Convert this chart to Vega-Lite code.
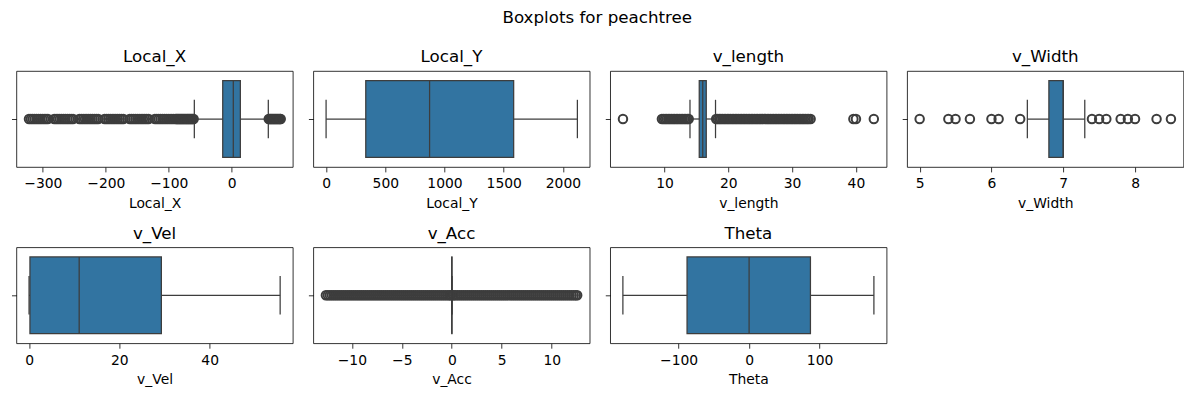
{
"$schema": "https://vega.github.io/schema/vega-lite/v6.json",
"padding": {"left": 10.4, "top": 10, "right": 0, "bottom": 0},
"title": {"text": "Boxplots for peachtree", "anchor": "middle", "fontSize": 16.7, "fontWeight": "normal", "font": "DejaVu Sans", "color": "black", "offset": 22},
"columns": 4,
"spacing": {"row": 80.3, "column": 19.9},
"bounds": "flush",
"datasets": {
"stats": [
{"var":"Local_X","lo":-59.4,"q1":-14.3,"med":2.5,"q3":13.7,"hi":58.1},
{"var":"Local_Y","lo":0,"q1":335,"med":874,"q3":1584,"hi":2122},
{"var":"v_length","lo":14.0,"q1":15.45,"med":16.0,"q3":16.55,"hi":18.0},
{"var":"v_Width","lo":6.5,"q1":6.8,"med":7.0,"q3":7.0,"hi":7.3},
{"var":"v_Vel","lo":0,"q1":0.2,"med":11.1,"q3":29.3,"hi":55.6},
{"var":"v_Acc","lo":0,"q1":0,"med":0,"q3":0.02,"hi":0.02},
{"var":"Theta","lo":-179,"q1":-88,"med":0,"q3":87,"hi":177}
],
"out": [
{"var":"Local_X","v":-322},{"var":"Local_X","v":-319},{"var":"Local_X","v":-316},{"var":"Local_X","v":-313},{"var":"Local_X","v":-310},{"var":"Local_X","v":-307},{"var":"Local_X","v":-304},{"var":"Local_X","v":-301},{"var":"Local_X","v":-298},{"var":"Local_X","v":-295},{"var":"Local_X","v":-292},
{"var":"Local_X","v":-282},{"var":"Local_X","v":-279},{"var":"Local_X","v":-276},{"var":"Local_X","v":-273},{"var":"Local_X","v":-270},{"var":"Local_X","v":-267},{"var":"Local_X","v":-264},{"var":"Local_X","v":-261},{"var":"Local_X","v":-258},{"var":"Local_X","v":-255},{"var":"Local_X","v":-252},
{"var":"Local_X","v":-242},{"var":"Local_X","v":-239},{"var":"Local_X","v":-236},{"var":"Local_X","v":-233},{"var":"Local_X","v":-230},{"var":"Local_X","v":-227},{"var":"Local_X","v":-224},{"var":"Local_X","v":-221},{"var":"Local_X","v":-218},{"var":"Local_X","v":-215},{"var":"Local_X","v":-212},
{"var":"Local_X","v":-202},{"var":"Local_X","v":-199},{"var":"Local_X","v":-196},{"var":"Local_X","v":-193},{"var":"Local_X","v":-190},{"var":"Local_X","v":-187},{"var":"Local_X","v":-184},{"var":"Local_X","v":-181},{"var":"Local_X","v":-178},{"var":"Local_X","v":-175},{"var":"Local_X","v":-172},
{"var":"Local_X","v":-162},{"var":"Local_X","v":-159},{"var":"Local_X","v":-156},{"var":"Local_X","v":-153},{"var":"Local_X","v":-150},{"var":"Local_X","v":-147},{"var":"Local_X","v":-144},{"var":"Local_X","v":-141},{"var":"Local_X","v":-138},{"var":"Local_X","v":-135},{"var":"Local_X","v":-132},
{"var":"Local_X","v":-122},{"var":"Local_X","v":-119},{"var":"Local_X","v":-116},{"var":"Local_X","v":-113},{"var":"Local_X","v":-110},{"var":"Local_X","v":-107},{"var":"Local_X","v":-104},{"var":"Local_X","v":-101},{"var":"Local_X","v":-98},{"var":"Local_X","v":-95},{"var":"Local_X","v":-92},
{"var":"Local_X","v":-89},{"var":"Local_X","v":-87.5},{"var":"Local_X","v":-86},{"var":"Local_X","v":-84.5},{"var":"Local_X","v":-83},{"var":"Local_X","v":-81.5},{"var":"Local_X","v":-80},{"var":"Local_X","v":-78.5},{"var":"Local_X","v":-77},{"var":"Local_X","v":-75.5},{"var":"Local_X","v":-74},{"var":"Local_X","v":-72.5},{"var":"Local_X","v":-71},{"var":"Local_X","v":-69.5},{"var":"Local_X","v":-68},{"var":"Local_X","v":-66.5},{"var":"Local_X","v":-65},{"var":"Local_X","v":-63.5},{"var":"Local_X","v":-62},{"var":"Local_X","v":-60.5},
{"var":"Local_X","v":58.8},{"var":"Local_X","v":60.3},{"var":"Local_X","v":61.8},{"var":"Local_X","v":63.3},{"var":"Local_X","v":64.8},{"var":"Local_X","v":66.3},{"var":"Local_X","v":67.8},{"var":"Local_X","v":69.3},{"var":"Local_X","v":70.8},{"var":"Local_X","v":72.3},{"var":"Local_X","v":73.8},{"var":"Local_X","v":75.3},{"var":"Local_X","v":76.8},{"var":"Local_X","v":77.8},
{"var":"v_length","v":3.5},
{"var":"v_length","v":9.6},{"var":"v_length","v":9.85},{"var":"v_length","v":10.1},{"var":"v_length","v":10.35},{"var":"v_length","v":10.6},{"var":"v_length","v":10.85},{"var":"v_length","v":11.1},{"var":"v_length","v":11.35},{"var":"v_length","v":11.6},{"var":"v_length","v":11.85},{"var":"v_length","v":12.1},{"var":"v_length","v":12.35},{"var":"v_length","v":12.6},{"var":"v_length","v":12.85},{"var":"v_length","v":13.1},{"var":"v_length","v":13.35},{"var":"v_length","v":13.6},{"var":"v_length","v":13.8},
{"var":"v_length","v":18.1},{"var":"v_length","v":18.35},{"var":"v_length","v":18.6},{"var":"v_length","v":18.85},{"var":"v_length","v":19.1},{"var":"v_length","v":19.35},{"var":"v_length","v":19.6},{"var":"v_length","v":19.85},{"var":"v_length","v":20.1},{"var":"v_length","v":20.35},{"var":"v_length","v":20.6},{"var":"v_length","v":20.85},{"var":"v_length","v":21.1},{"var":"v_length","v":21.35},{"var":"v_length","v":21.6},{"var":"v_length","v":21.85},{"var":"v_length","v":22.1},{"var":"v_length","v":22.35},{"var":"v_length","v":22.6},{"var":"v_length","v":22.85},{"var":"v_length","v":23.1},{"var":"v_length","v":23.35},{"var":"v_length","v":23.6},{"var":"v_length","v":23.85},{"var":"v_length","v":24.1},{"var":"v_length","v":24.35},{"var":"v_length","v":24.6},{"var":"v_length","v":24.85},{"var":"v_length","v":25.1},{"var":"v_length","v":25.35},{"var":"v_length","v":25.6},{"var":"v_length","v":25.85},{"var":"v_length","v":26.1},{"var":"v_length","v":26.35},{"var":"v_length","v":26.6},{"var":"v_length","v":26.85},{"var":"v_length","v":27.1},{"var":"v_length","v":27.35},{"var":"v_length","v":27.6},{"var":"v_length","v":27.85},{"var":"v_length","v":28.1},{"var":"v_length","v":28.35},{"var":"v_length","v":28.6},{"var":"v_length","v":28.85},{"var":"v_length","v":29.1},{"var":"v_length","v":29.35},{"var":"v_length","v":29.6},{"var":"v_length","v":29.85},{"var":"v_length","v":30.1},{"var":"v_length","v":30.35},{"var":"v_length","v":30.6},{"var":"v_length","v":30.85},{"var":"v_length","v":31.1},{"var":"v_length","v":31.35},{"var":"v_length","v":31.6},{"var":"v_length","v":31.85},{"var":"v_length","v":32.1},{"var":"v_length","v":32.35},{"var":"v_length","v":32.6},{"var":"v_length","v":32.9},
{"var":"v_length","v":39.6},{"var":"v_length","v":40.0},{"var":"v_length","v":42.8},
{"var":"v_Width","v":5.0},{"var":"v_Width","v":5.4},{"var":"v_Width","v":5.5},{"var":"v_Width","v":5.7},{"var":"v_Width","v":6.0},{"var":"v_Width","v":6.1},{"var":"v_Width","v":6.4},{"var":"v_Width","v":7.4},{"var":"v_Width","v":7.5},{"var":"v_Width","v":7.6},{"var":"v_Width","v":7.8},{"var":"v_Width","v":7.9},{"var":"v_Width","v":8.0},{"var":"v_Width","v":8.3},{"var":"v_Width","v":8.5},
{"var":"v_Acc","v":-12.6},{"var":"v_Acc","v":-12.4},{"var":"v_Acc","v":-12.2},{"var":"v_Acc","v":-12.0},{"var":"v_Acc","v":-11.8},{"var":"v_Acc","v":-11.6},{"var":"v_Acc","v":-11.4},{"var":"v_Acc","v":-11.2},{"var":"v_Acc","v":-11.0},{"var":"v_Acc","v":-10.8},{"var":"v_Acc","v":-10.6},{"var":"v_Acc","v":-10.4},{"var":"v_Acc","v":-10.2},{"var":"v_Acc","v":-10.0},{"var":"v_Acc","v":-9.8},{"var":"v_Acc","v":-9.6},{"var":"v_Acc","v":-9.4},{"var":"v_Acc","v":-9.2},{"var":"v_Acc","v":-9.0},{"var":"v_Acc","v":-8.8},{"var":"v_Acc","v":-8.6},{"var":"v_Acc","v":-8.4},{"var":"v_Acc","v":-8.2},{"var":"v_Acc","v":-8.0},{"var":"v_Acc","v":-7.8},{"var":"v_Acc","v":-7.6},{"var":"v_Acc","v":-7.4},{"var":"v_Acc","v":-7.2},{"var":"v_Acc","v":-7.0},{"var":"v_Acc","v":-6.8},{"var":"v_Acc","v":-6.6},{"var":"v_Acc","v":-6.4},{"var":"v_Acc","v":-6.2},{"var":"v_Acc","v":-6.0},{"var":"v_Acc","v":-5.8},{"var":"v_Acc","v":-5.6},{"var":"v_Acc","v":-5.4},{"var":"v_Acc","v":-5.2},{"var":"v_Acc","v":-5.0},{"var":"v_Acc","v":-4.8},{"var":"v_Acc","v":-4.6},{"var":"v_Acc","v":-4.4},{"var":"v_Acc","v":-4.2},{"var":"v_Acc","v":-4.0},{"var":"v_Acc","v":-3.8},{"var":"v_Acc","v":-3.6},{"var":"v_Acc","v":-3.4},{"var":"v_Acc","v":-3.2},{"var":"v_Acc","v":-3.0},{"var":"v_Acc","v":-2.8},{"var":"v_Acc","v":-2.6},{"var":"v_Acc","v":-2.4},{"var":"v_Acc","v":-2.2},{"var":"v_Acc","v":-2.0},{"var":"v_Acc","v":-1.8},{"var":"v_Acc","v":-1.6},{"var":"v_Acc","v":-1.4},{"var":"v_Acc","v":-1.2},{"var":"v_Acc","v":-1.0},{"var":"v_Acc","v":-0.8},{"var":"v_Acc","v":-0.6},{"var":"v_Acc","v":-0.4},{"var":"v_Acc","v":-0.2},{"var":"v_Acc","v":-0.1},
{"var":"v_Acc","v":0.1},{"var":"v_Acc","v":0.2},{"var":"v_Acc","v":0.4},{"var":"v_Acc","v":0.6},{"var":"v_Acc","v":0.8},{"var":"v_Acc","v":1.0},{"var":"v_Acc","v":1.2},{"var":"v_Acc","v":1.4},{"var":"v_Acc","v":1.6},{"var":"v_Acc","v":1.8},{"var":"v_Acc","v":2.0},{"var":"v_Acc","v":2.2},{"var":"v_Acc","v":2.4},{"var":"v_Acc","v":2.6},{"var":"v_Acc","v":2.8},{"var":"v_Acc","v":3.0},{"var":"v_Acc","v":3.2},{"var":"v_Acc","v":3.4},{"var":"v_Acc","v":3.6},{"var":"v_Acc","v":3.8},{"var":"v_Acc","v":4.0},{"var":"v_Acc","v":4.2},{"var":"v_Acc","v":4.4},{"var":"v_Acc","v":4.6},{"var":"v_Acc","v":4.8},{"var":"v_Acc","v":5.0},{"var":"v_Acc","v":5.2},{"var":"v_Acc","v":5.4},{"var":"v_Acc","v":5.6},{"var":"v_Acc","v":5.8},{"var":"v_Acc","v":6.0},{"var":"v_Acc","v":6.2},{"var":"v_Acc","v":6.4},{"var":"v_Acc","v":6.6},{"var":"v_Acc","v":6.8},{"var":"v_Acc","v":7.0},{"var":"v_Acc","v":7.2},{"var":"v_Acc","v":7.4},{"var":"v_Acc","v":7.6},{"var":"v_Acc","v":7.8},{"var":"v_Acc","v":8.0},{"var":"v_Acc","v":8.2},{"var":"v_Acc","v":8.4},{"var":"v_Acc","v":8.6},{"var":"v_Acc","v":8.8},{"var":"v_Acc","v":9.0},{"var":"v_Acc","v":9.2},{"var":"v_Acc","v":9.4},{"var":"v_Acc","v":9.6},{"var":"v_Acc","v":9.8},{"var":"v_Acc","v":10.0},{"var":"v_Acc","v":10.2},{"var":"v_Acc","v":10.4},{"var":"v_Acc","v":10.6},{"var":"v_Acc","v":10.8},{"var":"v_Acc","v":11.0},{"var":"v_Acc","v":11.2},{"var":"v_Acc","v":11.4},{"var":"v_Acc","v":11.6},{"var":"v_Acc","v":11.8},{"var":"v_Acc","v":12.0},{"var":"v_Acc","v":12.2},{"var":"v_Acc","v":12.4},{"var":"v_Acc","v":12.55}
]
},
"concat": [
{"title": "Local_X", "width": 276.4, "height": 96,
 "encoding": {"y": {"field": "var", "type": "nominal", "scale": {"paddingInner": 0, "paddingOuter": 0.125}, "axis": {"title": null, "labels": false}}},
 "layer": [
  {"data": {"name": "stats"}, "transform": [{"filter": "datum.var == 'Local_X'"}], "mark": {"type": "rule", "color": "#3d3d3d", "strokeWidth": 1.25, "opacity": 1}, "encoding": {"x": {"field": "lo", "type": "quantitative", "scale": {"domain": [-342, 97], "nice": false, "zero": false}, "axis": {"title": "Local_X", "values": [-300, -200, -100, 0]}}, "x2": {"field": "hi"}}},
  {"data": {"name": "stats"}, "transform": [{"filter": "datum.var == 'Local_X'"}], "mark": {"type": "bar", "fill": "#3274a1", "stroke": "#3d3d3d", "strokeWidth": 1.25, "opacity": 1}, "encoding": {"x": {"field": "q1", "type": "quantitative", "scale": {"domain": [-342, 97], "nice": false, "zero": false}, "axis": {"title": "Local_X", "values": [-300, -200, -100, 0]}}, "x2": {"field": "q3"}}},
  {"data": {"name": "stats"}, "transform": [{"filter": "datum.var == 'Local_X'"}], "mark": {"type": "tick", "color": "#3d3d3d", "thickness": 1.25, "size": 76.8, "opacity": 1}, "encoding": {"x": {"field": "med", "type": "quantitative", "scale": {"domain": [-342, 97], "nice": false, "zero": false}, "axis": {"title": "Local_X", "values": [-300, -200, -100, 0]}}}},
  {"data": {"name": "stats"}, "transform": [{"filter": "datum.var == 'Local_X'"}], "mark": {"type": "tick", "color": "#3d3d3d", "thickness": 1.25, "size": 38.4, "opacity": 1}, "encoding": {"x": {"field": "lo", "type": "quantitative", "scale": {"domain": [-342, 97], "nice": false, "zero": false}, "axis": {"title": "Local_X", "values": [-300, -200, -100, 0]}}}},
  {"data": {"name": "stats"}, "transform": [{"filter": "datum.var == 'Local_X'"}], "mark": {"type": "tick", "color": "#3d3d3d", "thickness": 1.25, "size": 38.4, "opacity": 1}, "encoding": {"x": {"field": "hi", "type": "quantitative", "scale": {"domain": [-342, 97], "nice": false, "zero": false}, "axis": {"title": "Local_X", "values": [-300, -200, -100, 0]}}}},
  {"data": {"name": "out"}, "transform": [{"filter": "datum.var == 'Local_X'"}], "mark": {"type": "point", "shape": "circle", "filled": false, "color": "#3d3d3d", "size": 72, "strokeWidth": 2, "opacity": 1}, "encoding": {"x": {"field": "v", "type": "quantitative", "scale": {"domain": [-342, 97], "nice": false, "zero": false}, "axis": {"title": "Local_X", "values": [-300, -200, -100, 0]}}}}
 ]},
{"title": "Local_Y", "width": 276.4, "height": 96,
 "encoding": {"y": {"field": "var", "type": "nominal", "scale": {"paddingInner": 0, "paddingOuter": 0.125}, "axis": {"title": null, "labels": false}}},
 "layer": [
  {"data": {"name": "stats"}, "transform": [{"filter": "datum.var == 'Local_Y'"}], "mark": {"type": "rule", "color": "#3d3d3d", "strokeWidth": 1.25, "opacity": 1}, "encoding": {"x": {"field": "lo", "type": "quantitative", "scale": {"domain": [-108, 2226], "nice": false, "zero": false}, "axis": {"title": "Local_Y", "values": [0, 500, 1000, 1500, 2000], "format": "d"}}, "x2": {"field": "hi"}}},
  {"data": {"name": "stats"}, "transform": [{"filter": "datum.var == 'Local_Y'"}], "mark": {"type": "bar", "fill": "#3274a1", "stroke": "#3d3d3d", "strokeWidth": 1.25, "opacity": 1}, "encoding": {"x": {"field": "q1", "type": "quantitative", "scale": {"domain": [-108, 2226], "nice": false, "zero": false}, "axis": {"title": "Local_Y", "values": [0, 500, 1000, 1500, 2000], "format": "d"}}, "x2": {"field": "q3"}}},
  {"data": {"name": "stats"}, "transform": [{"filter": "datum.var == 'Local_Y'"}], "mark": {"type": "tick", "color": "#3d3d3d", "thickness": 1.25, "size": 76.8, "opacity": 1}, "encoding": {"x": {"field": "med", "type": "quantitative", "scale": {"domain": [-108, 2226], "nice": false, "zero": false}, "axis": {"title": "Local_Y", "values": [0, 500, 1000, 1500, 2000], "format": "d"}}}},
  {"data": {"name": "stats"}, "transform": [{"filter": "datum.var == 'Local_Y'"}], "mark": {"type": "tick", "color": "#3d3d3d", "thickness": 1.25, "size": 38.4, "opacity": 1}, "encoding": {"x": {"field": "lo", "type": "quantitative", "scale": {"domain": [-108, 2226], "nice": false, "zero": false}, "axis": {"title": "Local_Y", "values": [0, 500, 1000, 1500, 2000], "format": "d"}}}},
  {"data": {"name": "stats"}, "transform": [{"filter": "datum.var == 'Local_Y'"}], "mark": {"type": "tick", "color": "#3d3d3d", "thickness": 1.25, "size": 38.4, "opacity": 1}, "encoding": {"x": {"field": "hi", "type": "quantitative", "scale": {"domain": [-108, 2226], "nice": false, "zero": false}, "axis": {"title": "Local_Y", "values": [0, 500, 1000, 1500, 2000], "format": "d"}}}}
 ]},
{"title": "v_length", "width": 276.4, "height": 96,
 "encoding": {"y": {"field": "var", "type": "nominal", "scale": {"paddingInner": 0, "paddingOuter": 0.125}, "axis": {"title": null, "labels": false}}},
 "layer": [
  {"data": {"name": "stats"}, "transform": [{"filter": "datum.var == 'v_length'"}], "mark": {"type": "rule", "color": "#3d3d3d", "strokeWidth": 1.25, "opacity": 1}, "encoding": {"x": {"field": "lo", "type": "quantitative", "scale": {"domain": [1.5, 44.8], "nice": false, "zero": false}, "axis": {"title": "v_length", "values": [10, 20, 30, 40]}}, "x2": {"field": "hi"}}},
  {"data": {"name": "stats"}, "transform": [{"filter": "datum.var == 'v_length'"}], "mark": {"type": "bar", "fill": "#3274a1", "stroke": "#3d3d3d", "strokeWidth": 1.25, "opacity": 1}, "encoding": {"x": {"field": "q1", "type": "quantitative", "scale": {"domain": [1.5, 44.8], "nice": false, "zero": false}, "axis": {"title": "v_length", "values": [10, 20, 30, 40]}}, "x2": {"field": "q3"}}},
  {"data": {"name": "stats"}, "transform": [{"filter": "datum.var == 'v_length'"}], "mark": {"type": "tick", "color": "#3d3d3d", "thickness": 1.25, "size": 76.8, "opacity": 1}, "encoding": {"x": {"field": "med", "type": "quantitative", "scale": {"domain": [1.5, 44.8], "nice": false, "zero": false}, "axis": {"title": "v_length", "values": [10, 20, 30, 40]}}}},
  {"data": {"name": "stats"}, "transform": [{"filter": "datum.var == 'v_length'"}], "mark": {"type": "tick", "color": "#3d3d3d", "thickness": 1.25, "size": 38.4, "opacity": 1}, "encoding": {"x": {"field": "lo", "type": "quantitative", "scale": {"domain": [1.5, 44.8], "nice": false, "zero": false}, "axis": {"title": "v_length", "values": [10, 20, 30, 40]}}}},
  {"data": {"name": "stats"}, "transform": [{"filter": "datum.var == 'v_length'"}], "mark": {"type": "tick", "color": "#3d3d3d", "thickness": 1.25, "size": 38.4, "opacity": 1}, "encoding": {"x": {"field": "hi", "type": "quantitative", "scale": {"domain": [1.5, 44.8], "nice": false, "zero": false}, "axis": {"title": "v_length", "values": [10, 20, 30, 40]}}}},
  {"data": {"name": "out"}, "transform": [{"filter": "datum.var == 'v_length'"}], "mark": {"type": "point", "shape": "circle", "filled": false, "color": "#3d3d3d", "size": 72, "strokeWidth": 2, "opacity": 1}, "encoding": {"x": {"field": "v", "type": "quantitative", "scale": {"domain": [1.5, 44.8], "nice": false, "zero": false}, "axis": {"title": "v_length", "values": [10, 20, 30, 40]}}}}
 ]},
{"title": "v_Width", "width": 276.4, "height": 96,
 "encoding": {"y": {"field": "var", "type": "nominal", "scale": {"paddingInner": 0, "paddingOuter": 0.125}, "axis": {"title": null, "labels": false}}},
 "layer": [
  {"data": {"name": "stats"}, "transform": [{"filter": "datum.var == 'v_Width'"}], "mark": {"type": "rule", "color": "#3d3d3d", "strokeWidth": 1.25, "opacity": 1}, "encoding": {"x": {"field": "lo", "type": "quantitative", "scale": {"domain": [4.825, 8.675], "nice": false, "zero": false}, "axis": {"title": "v_Width", "values": [5, 6, 7, 8]}}, "x2": {"field": "hi"}}},
  {"data": {"name": "stats"}, "transform": [{"filter": "datum.var == 'v_Width'"}], "mark": {"type": "bar", "fill": "#3274a1", "stroke": "#3d3d3d", "strokeWidth": 1.25, "opacity": 1}, "encoding": {"x": {"field": "q1", "type": "quantitative", "scale": {"domain": [4.825, 8.675], "nice": false, "zero": false}, "axis": {"title": "v_Width", "values": [5, 6, 7, 8]}}, "x2": {"field": "q3"}}},
  {"data": {"name": "stats"}, "transform": [{"filter": "datum.var == 'v_Width'"}], "mark": {"type": "tick", "color": "#3d3d3d", "thickness": 1.25, "size": 76.8, "opacity": 1}, "encoding": {"x": {"field": "med", "type": "quantitative", "scale": {"domain": [4.825, 8.675], "nice": false, "zero": false}, "axis": {"title": "v_Width", "values": [5, 6, 7, 8]}}}},
  {"data": {"name": "stats"}, "transform": [{"filter": "datum.var == 'v_Width'"}], "mark": {"type": "tick", "color": "#3d3d3d", "thickness": 1.25, "size": 38.4, "opacity": 1}, "encoding": {"x": {"field": "lo", "type": "quantitative", "scale": {"domain": [4.825, 8.675], "nice": false, "zero": false}, "axis": {"title": "v_Width", "values": [5, 6, 7, 8]}}}},
  {"data": {"name": "stats"}, "transform": [{"filter": "datum.var == 'v_Width'"}], "mark": {"type": "tick", "color": "#3d3d3d", "thickness": 1.25, "size": 38.4, "opacity": 1}, "encoding": {"x": {"field": "hi", "type": "quantitative", "scale": {"domain": [4.825, 8.675], "nice": false, "zero": false}, "axis": {"title": "v_Width", "values": [5, 6, 7, 8]}}}},
  {"data": {"name": "out"}, "transform": [{"filter": "datum.var == 'v_Width'"}], "mark": {"type": "point", "shape": "circle", "filled": false, "color": "#3d3d3d", "size": 72, "strokeWidth": 2, "opacity": 1}, "encoding": {"x": {"field": "v", "type": "quantitative", "scale": {"domain": [4.825, 8.675], "nice": false, "zero": false}, "axis": {"title": "v_Width", "values": [5, 6, 7, 8]}}}}
 ]},
{"title": "v_Vel", "width": 276.4, "height": 96,
 "encoding": {"y": {"field": "var", "type": "nominal", "scale": {"paddingInner": 0, "paddingOuter": 0.125}, "axis": {"title": null, "labels": false}}},
 "layer": [
  {"data": {"name": "stats"}, "transform": [{"filter": "datum.var == 'v_Vel'"}], "mark": {"type": "rule", "color": "#3d3d3d", "strokeWidth": 1.25, "opacity": 1}, "encoding": {"x": {"field": "lo", "type": "quantitative", "scale": {"domain": [-2.8, 58.4], "nice": false, "zero": false}, "axis": {"title": "v_Vel", "values": [0, 20, 40]}}, "x2": {"field": "hi"}}},
  {"data": {"name": "stats"}, "transform": [{"filter": "datum.var == 'v_Vel'"}], "mark": {"type": "bar", "fill": "#3274a1", "stroke": "#3d3d3d", "strokeWidth": 1.25, "opacity": 1}, "encoding": {"x": {"field": "q1", "type": "quantitative", "scale": {"domain": [-2.8, 58.4], "nice": false, "zero": false}, "axis": {"title": "v_Vel", "values": [0, 20, 40]}}, "x2": {"field": "q3"}}},
  {"data": {"name": "stats"}, "transform": [{"filter": "datum.var == 'v_Vel'"}], "mark": {"type": "tick", "color": "#3d3d3d", "thickness": 1.25, "size": 76.8, "opacity": 1}, "encoding": {"x": {"field": "med", "type": "quantitative", "scale": {"domain": [-2.8, 58.4], "nice": false, "zero": false}, "axis": {"title": "v_Vel", "values": [0, 20, 40]}}}},
  {"data": {"name": "stats"}, "transform": [{"filter": "datum.var == 'v_Vel'"}], "mark": {"type": "tick", "color": "#3d3d3d", "thickness": 1.25, "size": 38.4, "opacity": 1}, "encoding": {"x": {"field": "lo", "type": "quantitative", "scale": {"domain": [-2.8, 58.4], "nice": false, "zero": false}, "axis": {"title": "v_Vel", "values": [0, 20, 40]}}}},
  {"data": {"name": "stats"}, "transform": [{"filter": "datum.var == 'v_Vel'"}], "mark": {"type": "tick", "color": "#3d3d3d", "thickness": 1.25, "size": 38.4, "opacity": 1}, "encoding": {"x": {"field": "hi", "type": "quantitative", "scale": {"domain": [-2.8, 58.4], "nice": false, "zero": false}, "axis": {"title": "v_Vel", "values": [0, 20, 40]}}}}
 ]},
{"title": "v_Acc", "width": 276.4, "height": 96,
 "encoding": {"y": {"field": "var", "type": "nominal", "scale": {"paddingInner": 0, "paddingOuter": 0.125}, "axis": {"title": null, "labels": false}}},
 "layer": [
  {"data": {"name": "stats"}, "transform": [{"filter": "datum.var == 'v_Acc'"}], "mark": {"type": "rule", "color": "#3d3d3d", "strokeWidth": 1.25, "opacity": 1}, "encoding": {"x": {"field": "lo", "type": "quantitative", "scale": {"domain": [-13.86, 13.8], "nice": false, "zero": false}, "axis": {"title": "v_Acc", "values": [-10, -5, 0, 5, 10]}}, "x2": {"field": "hi"}}},
  {"data": {"name": "out"}, "transform": [{"filter": "datum.var == 'v_Acc'"}], "mark": {"type": "point", "shape": "circle", "filled": false, "color": "#3d3d3d", "size": 72, "strokeWidth": 2, "opacity": 1}, "encoding": {"x": {"field": "v", "type": "quantitative", "scale": {"domain": [-13.86, 13.8], "nice": false, "zero": false}, "axis": {"title": "v_Acc", "values": [-10, -5, 0, 5, 10]}}}},
  {"data": {"name": "stats"}, "transform": [{"filter": "datum.var == 'v_Acc'"}], "mark": {"type": "bar", "fill": "#3274a1", "stroke": "#3d3d3d", "strokeWidth": 1.25, "opacity": 1}, "encoding": {"x": {"field": "q1", "type": "quantitative", "scale": {"domain": [-13.86, 13.8], "nice": false, "zero": false}, "axis": {"title": "v_Acc", "values": [-10, -5, 0, 5, 10]}}, "x2": {"field": "q3"}}},
  {"data": {"name": "stats"}, "transform": [{"filter": "datum.var == 'v_Acc'"}], "mark": {"type": "tick", "color": "#3d3d3d", "thickness": 1.25, "size": 76.8, "opacity": 1}, "encoding": {"x": {"field": "med", "type": "quantitative", "scale": {"domain": [-13.86, 13.8], "nice": false, "zero": false}, "axis": {"title": "v_Acc", "values": [-10, -5, 0, 5, 10]}}}},
  {"data": {"name": "stats"}, "transform": [{"filter": "datum.var == 'v_Acc'"}], "mark": {"type": "tick", "color": "#3d3d3d", "thickness": 1.25, "size": 38.4, "opacity": 1}, "encoding": {"x": {"field": "lo", "type": "quantitative", "scale": {"domain": [-13.86, 13.8], "nice": false, "zero": false}, "axis": {"title": "v_Acc", "values": [-10, -5, 0, 5, 10]}}}},
  {"data": {"name": "stats"}, "transform": [{"filter": "datum.var == 'v_Acc'"}], "mark": {"type": "tick", "color": "#3d3d3d", "thickness": 1.25, "size": 38.4, "opacity": 1}, "encoding": {"x": {"field": "hi", "type": "quantitative", "scale": {"domain": [-13.86, 13.8], "nice": false, "zero": false}, "axis": {"title": "v_Acc", "values": [-10, -5, 0, 5, 10]}}}}
 ]},
{"title": "Theta", "width": 276.4, "height": 96,
 "encoding": {"y": {"field": "var", "type": "nominal", "scale": {"paddingInner": 0, "paddingOuter": 0.125}, "axis": {"title": null, "labels": false}}},
 "layer": [
  {"data": {"name": "stats"}, "transform": [{"filter": "datum.var == 'Theta'"}], "mark": {"type": "rule", "color": "#3d3d3d", "strokeWidth": 1.25, "opacity": 1}, "encoding": {"x": {"field": "lo", "type": "quantitative", "scale": {"domain": [-197, 195], "nice": false, "zero": false}, "axis": {"title": "Theta", "values": [-100, 0, 100]}}, "x2": {"field": "hi"}}},
  {"data": {"name": "stats"}, "transform": [{"filter": "datum.var == 'Theta'"}], "mark": {"type": "bar", "fill": "#3274a1", "stroke": "#3d3d3d", "strokeWidth": 1.25, "opacity": 1}, "encoding": {"x": {"field": "q1", "type": "quantitative", "scale": {"domain": [-197, 195], "nice": false, "zero": false}, "axis": {"title": "Theta", "values": [-100, 0, 100]}}, "x2": {"field": "q3"}}},
  {"data": {"name": "stats"}, "transform": [{"filter": "datum.var == 'Theta'"}], "mark": {"type": "tick", "color": "#3d3d3d", "thickness": 1.25, "size": 76.8, "opacity": 1}, "encoding": {"x": {"field": "med", "type": "quantitative", "scale": {"domain": [-197, 195], "nice": false, "zero": false}, "axis": {"title": "Theta", "values": [-100, 0, 100]}}}},
  {"data": {"name": "stats"}, "transform": [{"filter": "datum.var == 'Theta'"}], "mark": {"type": "tick", "color": "#3d3d3d", "thickness": 1.25, "size": 38.4, "opacity": 1}, "encoding": {"x": {"field": "lo", "type": "quantitative", "scale": {"domain": [-197, 195], "nice": false, "zero": false}, "axis": {"title": "Theta", "values": [-100, 0, 100]}}}},
  {"data": {"name": "stats"}, "transform": [{"filter": "datum.var == 'Theta'"}], "mark": {"type": "tick", "color": "#3d3d3d", "thickness": 1.25, "size": 38.4, "opacity": 1}, "encoding": {"x": {"field": "hi", "type": "quantitative", "scale": {"domain": [-197, 195], "nice": false, "zero": false}, "axis": {"title": "Theta", "values": [-100, 0, 100]}}}}
 ]}
],
"config": {
 "font": "DejaVu Sans",
 "background": "white",
 "view": {"stroke": "black", "strokeWidth": 0.8},
 "axis": {"grid": false, "domain": false, "tickColor": "black", "tickWidth": 0.8, "tickSize": 4.9, "labelColor": "black", "labelFontSize": 13.9, "labelFont": "DejaVu Sans", "labelFlush": false, "labelPadding": 5, "titleFont": "DejaVu Sans", "titleFontSize": 13.9, "titleFontWeight": "normal", "titleColor": "black", "titlePadding": 5.5},
 "title": {"font": "DejaVu Sans", "fontSize": 16.7, "fontWeight": "normal", "color": "black", "offset": 5}
}
}
